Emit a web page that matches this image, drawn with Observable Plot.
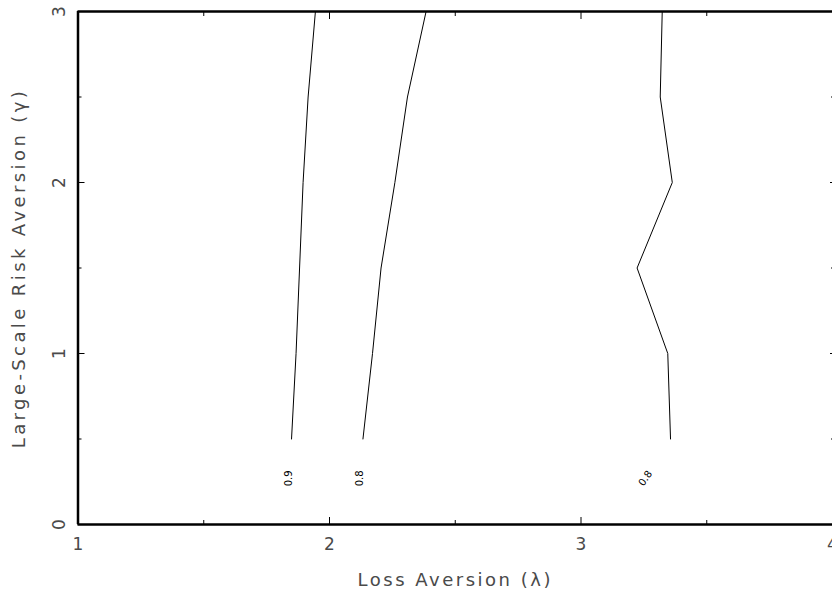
<!DOCTYPE html>
<html>
<head>
<meta charset="utf-8">
<script src="https://cdn.jsdelivr.net/npm/d3@7"></script>
<script src="https://cdn.jsdelivr.net/npm/@observablehq/plot@0.6"></script>
<style>
  html, body { margin: 0; padding: 0; background: #fff; }
  #chart svg { display: block; }
</style>
</head>
<body>
<div id="chart"></div>
<script>
// Contour data: gamma (large-scale risk aversion) levels and lambda (loss aversion) positions
const gammas = [0.5, 1, 1.5, 2, 2.5, 3];
const lambda09 = [1.849, 1.867, 1.881, 1.895, 1.915, 1.944];
const lambda08a = [2.133, 2.171, 2.205, 2.260, 2.310, 2.384];
const lambda08b = [3.356, 3.345, 3.223, 3.363, 3.315, 3.323];

// Contour labels
const labelText = ["0.9", "0.8", "0.8"];
const labelX = [1.837, 2.119, 3.256];
const labelY = [0.27, 0.27, 0.27];
const labelRotate = [-90, -90, -55];

// Axis ticks and titles
const xMajor = [1, 2, 3, 4];
const xMinor = [1.5, 2.5, 3.5];
const yMajor = [0, 1, 2, 3];
const yMinor = [0.5, 1.5, 2.5];
const xTitle = "Loss Aversion (λ)";
const yTitle = "Large-Scale Risk Aversion (γ)";

const contours = [
  ...gammas.map((g, i) => ({series: "a", lambda: lambda09[i], gamma: g})),
  ...gammas.map((g, i) => ({series: "b", lambda: lambda08a[i], gamma: g})),
  ...gammas.map((g, i) => ({series: "c", lambda: lambda08b[i], gamma: g}))
];
const labels = labelText.map((t, i) => ({t, x: labelX[i], y: labelY[i], r: labelRotate[i]}));

const font = "DejaVu Sans, sans-serif";
const textColor = "#4a4a4a";

const chart = Plot.plot({
  width: 832,
  height: 596,
  marginLeft: 77.5,
  marginRight: 0,
  marginTop: 11,
  marginBottom: 72,
  style: {fontFamily: font, background: "#fff", overflow: "visible"},
  x: {domain: [1, 4]},
  y: {domain: [0, 3]},
  marks: [
    // inward ticks - bottom
    Plot.axisX({anchor: "bottom", ticks: xMajor, tickSize: -7, text: null, strokeWidth: 1}),
    Plot.axisX({anchor: "bottom", ticks: xMinor, tickSize: -4, text: null, strokeWidth: 1}),
    // inward ticks - top
    Plot.axisX({anchor: "top", ticks: xMajor, tickSize: -7, text: null, strokeWidth: 1}),
    Plot.axisX({anchor: "top", ticks: xMinor, tickSize: -4, text: null, strokeWidth: 1}),
    // inward ticks - left
    Plot.axisY({anchor: "left", ticks: yMajor, tickSize: -7, text: null, strokeWidth: 1}),
    Plot.axisY({anchor: "left", ticks: yMinor, tickSize: -4, text: null, strokeWidth: 1}),
    // inward ticks - right (mostly clipped at edge)
    Plot.axisY({anchor: "right", ticks: yMajor, tickSize: -7, text: null, strokeWidth: 1, dx: 4}),
    Plot.axisY({anchor: "right", ticks: yMinor, tickSize: -4, text: null, strokeWidth: 1, dx: 2}),
    // x tick labels
    Plot.text(xMajor, {x: d => d, text: d => String(d), frameAnchor: "bottom", dy: 25,
      fontSize: 17, fill: textColor, fontFamily: font}),
    // y tick labels (rotated)
    Plot.text(yMajor, {y: d => d, text: d => String(d), frameAnchor: "left", textAnchor: "middle",
      dx: -18, rotate: -90, fontSize: 17, fill: textColor, fontFamily: font}),
    // axis titles
    Plot.text([xTitle], {frameAnchor: "bottom", textAnchor: "middle", dy: 61, fontSize: 18,
      fill: textColor, fontFamily: font}),
    Plot.text([yTitle], {frameAnchor: "left", textAnchor: "middle", dx: -59, rotate: -90,
      fontSize: 18, fill: textColor, fontFamily: font}),
    // frame lines
    Plot.ruleX([1], {strokeWidth: 2.5}),
    Plot.ruleY([0, 3], {strokeWidth: 2.5}),
    // contour lines
    Plot.line(contours, {x: "lambda", y: "gamma", z: "series", stroke: "#000", strokeWidth: 1}),
    // contour labels
    Plot.text(labels, {x: "x", y: "y", text: "t", rotate: "r", fontSize: 10, fill: "#000", fontFamily: font})
  ]
});
// widen the axis titles' letter spacing to match the reference font
d3.select(chart).selectAll("text").each(function() {
  const t = this.textContent;
  if (t === xTitle) this.style.letterSpacing = "2.5px";
  if (t === yTitle) this.style.letterSpacing = "3.4px";
});
document.getElementById("chart").appendChild(chart);
</script>
</body>
</html>
